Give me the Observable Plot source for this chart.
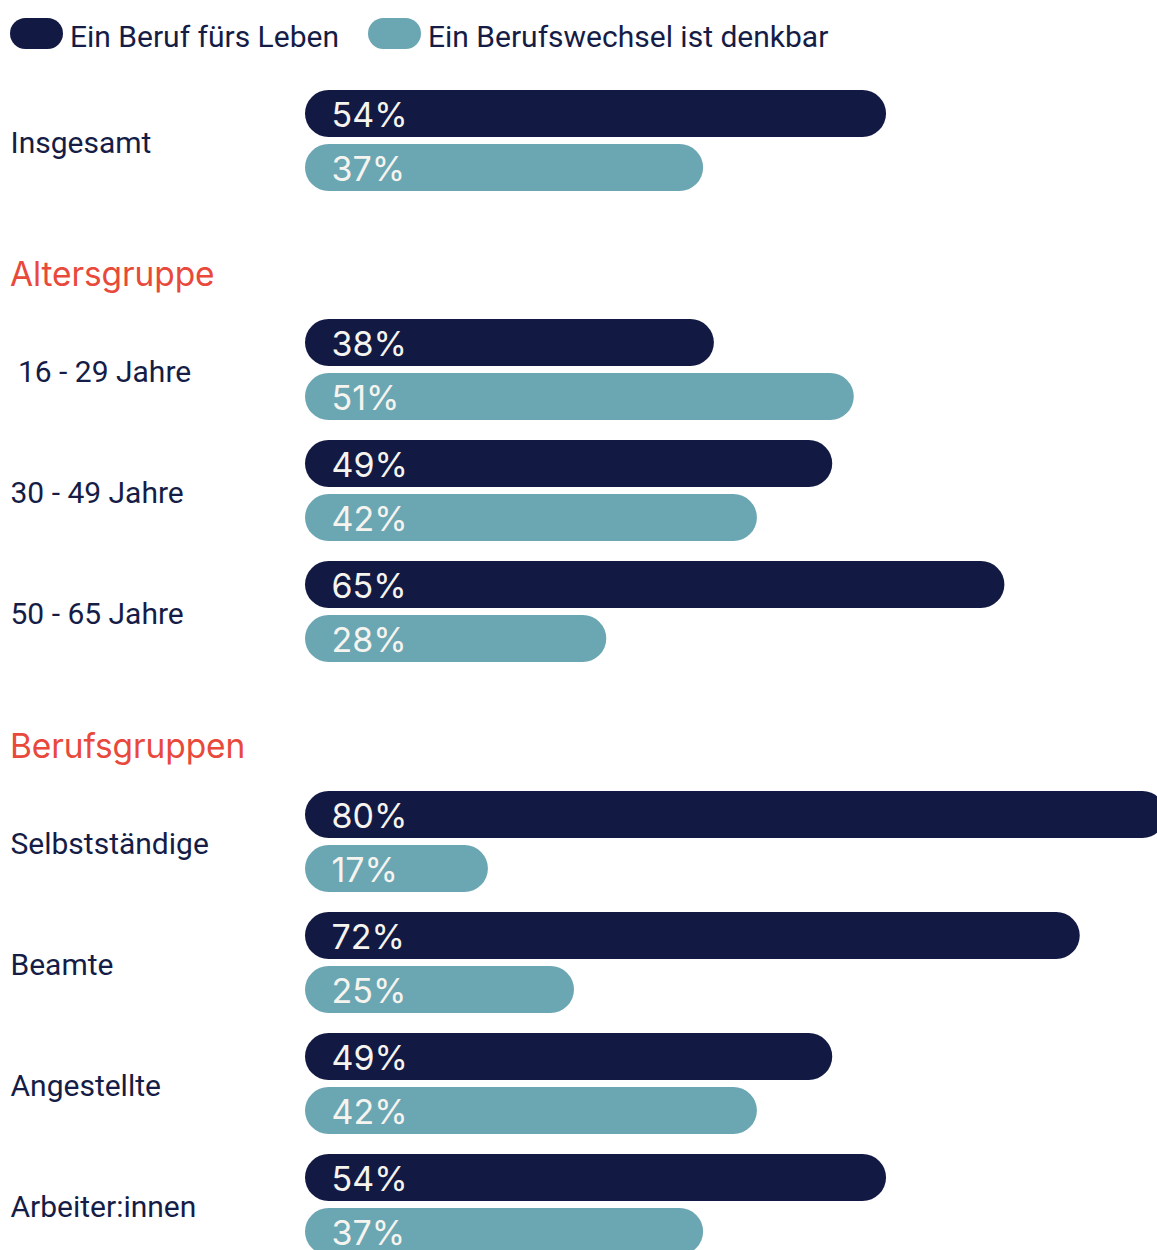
<!DOCTYPE html>
<html>
<head>
<meta charset="utf-8">
<script src="https://cdn.jsdelivr.net/npm/d3@7"></script>
<script src="https://cdn.jsdelivr.net/npm/@observablehq/plot@0.6"></script>
<style>
  html, body { margin: 0; padding: 0; background: #fff; overflow: hidden; }
  body { width: 1157px; height: 1250px; position: relative; font-family: Roboto, "Noto Sans", sans-serif; color: #151d47; }
  .legend { position: absolute; top: 18px; left: 10px; display: flex; align-items: center; font-size: 30px; letter-spacing: 0px; height: 31px; }
  .legend .item { display: flex; align-items: center; margin-right: 29px; }
  .legend .sw { width: 53px; height: 31px; border-radius: 16px; margin-right: 7px; }
  .legend .lbl { position: relative; top: 3px; }
  .heading { position: absolute; left: 10px; font-family: Inter, sans-serif; font-size: 33.5px; color: #e9493b; letter-spacing: -0.1px; line-height: 1; }
  .sec { position: absolute; left: 0; }
</style>
</head>
<body>
<div id="root"></div>
<script>
// ---- data ----
const seriesNames = ["Ein Beruf fürs Leben", "Ein Berufswechsel ist denkbar"];
const seriesColors = ["#121a44", "#6ba6b3"];
const categories = ["Insgesamt", " 16 - 29 Jahre", "30 - 49 Jahre", "50 - 65 Jahre", "Selbstständige", "Beamte", "Angestellte", "Arbeiter:innen"];
const sectionOf = ["", "Altersgruppe", "Altersgruppe", "Altersgruppe", "Berufsgruppen", "Berufsgruppen", "Berufsgruppen", "Berufsgruppen"];
const berufFuersLeben = [54, 38, 49, 65, 80, 72, 49, 54];
const berufswechsel = [37, 51, 42, 28, 17, 25, 42, 37];
const sectionHeadings = ["Altersgruppe", "Berufsgruppen"];

const rows = categories.map((c, i) => ({cat: c, section: sectionOf[i], a: berufFuersLeben[i], b: berufswechsel[i]}));

const root = document.getElementById("root");

// legend
const legend = document.createElement("div");
legend.className = "legend";
seriesNames.forEach((s, i) => {
  const it = document.createElement("div");
  it.className = "item";
  const sw = document.createElement("span");
  sw.className = "sw";
  sw.style.background = seriesColors[i];
  const t = document.createElement("span");
  t.className = "lbl";
  t.textContent = s;
  it.appendChild(sw); it.appendChild(t);
  legend.appendChild(it);
});
root.appendChild(legend);

const STEP = 121, BW = 101, BAR = 47;
const PAD = (STEP - BW) / STEP;
function section(data, barTop) {
  const h = data.length * STEP;
  const chart = Plot.plot({
    width: 1157,
    height: h,
    marginTop: 0, marginBottom: 0, marginLeft: 305, marginRight: 0,
    style: {fontFamily: "Roboto, 'Noto Sans', sans-serif", background: "transparent", overflow: "hidden"},
    x: {domain: [0, 100], range: [305, 305 + 1076], axis: null},
    y: {domain: data.map(d => d.cat), paddingInner: PAD, paddingOuter: PAD / 2, axis: null},
    marks: [
      Plot.barX(data, {x: "a", y: "cat", fill: seriesColors[0], rx: BAR / 2, insetBottom: BW - BAR}),
      Plot.barX(data, {x: "b", y: "cat", fill: seriesColors[1], rx: BAR / 2, insetTop: BW - BAR}),
      Plot.text(data, {x: 0, y: "cat", text: d => d.a + "%", dx: 26, dy: -(BW - BAR) / 2 + 2, textAnchor: "start", fill: "#f6f4ef", fontSize: 34, fontFamily: "Inter, sans-serif", letterSpacing: -0.9}),
      Plot.text(data, {x: 0, y: "cat", text: d => d.b + "%", dx: 26, dy: (BW - BAR) / 2 + 2, textAnchor: "start", fill: "#f6f4ef", fontSize: 34, fontFamily: "Inter, sans-serif", letterSpacing: -0.9}),
      Plot.text(data, {x: 0, y: "cat", text: "cat", dx: -295, dy: 2, textAnchor: "start", fill: "#151d47", fontSize: 30, letterSpacing: 0})
    ]
  });
  chart.classList.add("sec");
  chart.style.top = (barTop - STEP * PAD / 2) + "px";
  root.appendChild(chart);
}
function heading(text, centerY) {
  const d = document.createElement("div");
  d.className = "heading";
  d.textContent = text;
  d.style.top = (centerY - 17) + "px";
  root.appendChild(d);
}

section(rows.filter(d => d.section === ""), 90);
heading(sectionHeadings[0], 275);
section(rows.filter(d => d.section === sectionHeadings[0]), 319);
heading(sectionHeadings[1], 747);
section(rows.filter(d => d.section === sectionHeadings[1]), 791);
</script>
</body>
</html>
